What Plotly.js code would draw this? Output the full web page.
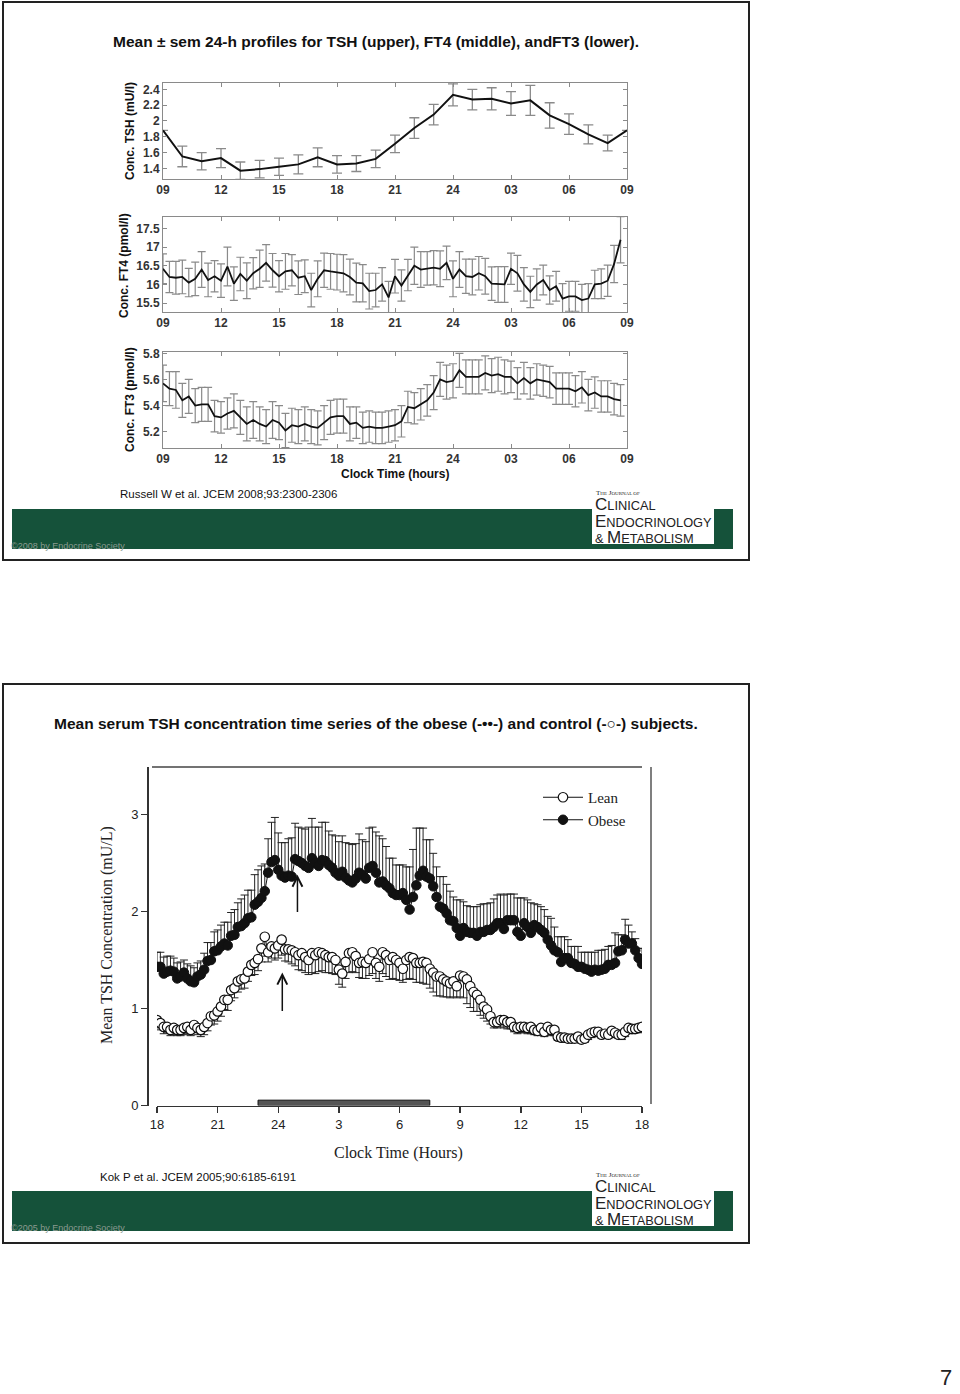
<!DOCTYPE html>
<html><head><meta charset="utf-8">
<script src="https://cdn.plot.ly/plotly-3.0.1.min.js"></script>
<style>html,body{margin:0;padding:0;background:#fff;} #chart{width:960px;height:1394px;}</style>
</head><body><div id="chart"></div>
<script>
// ---------- Slide 1 data (hours since 09:00) ----------
const tickHours1 = [0,3,6,9,12,15,18,21,24];
const tickText1 = ['09','12','15','18','21','24','03','06','09'];

const tshHours = [0,1,2,3,4,5,6,7,8,9,10,11,12,13,14,15,16,17,18,19,20,21,22,23,24];
const tshMean = [1.88,1.55,1.49,1.53,1.37,1.39,1.42,1.45,1.54,1.45,1.46,1.52,1.71,1.91,2.08,2.33,2.27,2.28,2.22,2.26,2.07,1.96,1.83,1.72,1.88];
const tshSem = [null,0.13,0.11,0.12,0.11,0.11,0.11,0.12,0.12,0.11,0.10,0.11,0.11,0.13,0.13,0.14,0.13,0.14,0.15,0.19,0.16,0.13,0.12,0.10,null];
const tshTicks = [1.4,1.6,1.8,2,2.2,2.4];
const tshTickText = ['1.4','1.6','1.8','2','2.2','2.4'];

const ft4Mean = [16.42,16.20,16.18,16.20,16.05,16.15,16.40,16.12,16.22,16.10,
16.48,16.02,16.28,16.10,16.30,16.42,16.58,16.38,16.22,16.35,
16.38,16.18,16.22,15.85,16.15,16.38,16.35,16.33,16.30,16.20,
16.05,16.03,15.82,15.85,16.00,15.65,16.22,15.97,16.25,16.50,
16.40,16.43,16.45,16.42,16.58,16.15,16.40,16.22,16.20,16.30,
16.22,16.02,16.00,16.00,16.42,16.30,16.00,15.80,16.00,16.12,
15.85,15.95,15.62,15.68,15.68,15.58,15.62,16.00,16.02,16.10,
16.55,17.20];
const ft4Sem = [0.40,0.42,0.44,0.45,0.38,0.45,0.48,0.45,0.42,0.45,
0.52,0.45,0.45,0.48,0.42,0.50,0.49,0.45,0.42,0.48,
0.42,0.45,0.44,0.45,0.48,0.46,0.48,0.48,0.50,0.48,
0.52,0.50,0.48,0.45,0.45,0.43,0.45,0.42,0.42,0.50,
0.48,0.45,0.46,0.48,0.45,0.48,0.48,0.46,0.48,0.45,
0.48,0.45,0.48,0.48,0.42,0.48,0.45,0.42,0.42,0.40,
0.38,0.40,0.40,0.40,0.40,0.42,0.40,0.38,0.40,0.42,
0.50,0.62];
const ft4Ticks = [15.5,16,16.5,17,17.5];
const ft4TickText = ['15.5','16','16.5','17','17.5'];

const ft3Mean = [5.57,5.53,5.52,5.44,5.47,5.40,5.41,5.41,5.32,5.31,
5.34,5.36,5.31,5.26,5.29,5.26,5.24,5.29,5.27,5.21,
5.25,5.24,5.26,5.24,5.23,5.27,5.31,5.32,5.32,5.26,
5.27,5.23,5.24,5.23,5.23,5.24,5.25,5.28,5.39,5.38,
5.41,5.44,5.50,5.60,5.58,5.59,5.67,5.62,5.62,5.62,
5.65,5.63,5.64,5.62,5.62,5.57,5.61,5.57,5.60,5.59,
5.58,5.53,5.53,5.53,5.51,5.54,5.48,5.50,5.47,5.47,
5.45,5.44];
const ft3Sem = [0.14,0.13,0.14,0.13,0.13,0.13,0.13,0.13,0.12,0.12,
0.12,0.13,0.13,0.13,0.14,0.13,0.13,0.14,0.13,0.13,
0.13,0.13,0.13,0.13,0.13,0.13,0.13,0.13,0.13,0.13,
0.12,0.12,0.12,0.12,0.12,0.12,0.12,0.12,0.12,0.12,
0.12,0.12,0.13,0.13,0.13,0.13,0.13,0.13,0.13,0.13,
0.13,0.13,0.13,0.13,0.12,0.12,0.12,0.12,0.12,0.12,
0.12,0.12,0.12,0.12,0.12,0.12,0.12,0.12,0.12,0.12,
0.12,0.12];
const ft3Ticks = [5.2,5.4,5.6,5.8];
const ft3TickText = ['5.2','5.4','5.6','5.8'];
const ft4ft3StepHours = 1/3; // 20-min sampling

// ---------- Slide 2 data (hours since 18:00, 10-min sampling) ----------
const tickHours2 = [0,3,6,9,12,15,18,21,24];
const tickText2 = ['18','21','24','3','6','9','12','15','18'];
const kokStepHours = 1/6;
const obeseMean = [1.43,1.43,1.36,1.38,1.39,1.38,1.31,1.33,1.37,1.31,
1.28,1.27,1.33,1.35,1.40,1.49,1.50,1.59,1.60,1.64,
1.67,1.65,1.75,1.76,1.84,1.85,1.88,1.93,1.94,2.07,
2.10,2.14,2.21,2.40,2.51,2.53,2.43,2.37,2.35,2.37,
2.36,2.54,2.52,2.50,2.47,2.45,2.55,2.50,2.47,2.53,
2.52,2.48,2.45,2.40,2.37,2.41,2.35,2.32,2.30,2.34,
2.40,2.38,2.34,2.45,2.47,2.40,2.30,2.31,2.27,2.24,
2.19,2.17,2.17,2.19,2.12,2.02,2.15,2.27,2.37,2.42,
2.36,2.34,2.26,2.15,2.05,2.03,1.98,1.91,1.90,1.83,
1.75,1.83,1.79,1.78,1.78,1.75,1.79,1.79,1.81,1.81,
1.84,1.88,1.88,1.82,1.91,1.91,1.91,1.79,1.75,1.88,
1.84,1.78,1.86,1.84,1.81,1.78,1.71,1.65,1.60,1.58,
1.48,1.52,1.52,1.47,1.46,1.43,1.43,1.41,1.40,1.38,
1.40,1.39,1.40,1.41,1.45,1.45,1.47,1.59,1.60,1.71,
1.67,1.67,1.60,1.52,1.46];
const obeseSem = [0.15,0.15,0.17,0.16,0.15,0.14,0.16,0.15,0.13,0.15,
0.16,0.15,0.14,0.14,0.17,0.19,0.18,0.20,0.21,0.22,
0.22,0.24,0.24,0.26,0.25,0.28,0.29,0.29,0.28,0.31,
0.33,0.33,0.28,0.35,0.41,0.44,0.38,0.34,0.36,0.38,
0.40,0.37,0.35,0.36,0.38,0.42,0.41,0.37,0.40,0.39,
0.40,0.35,0.34,0.38,0.35,0.37,0.36,0.38,0.39,0.36,
0.40,0.36,0.38,0.41,0.40,0.42,0.48,0.44,0.40,0.31,
0.36,0.31,0.31,0.29,0.34,0.44,0.49,0.59,0.49,0.44,
0.38,0.40,0.34,0.31,0.31,0.33,0.30,0.30,0.25,0.29,
0.37,0.27,0.27,0.27,0.27,0.30,0.28,0.29,0.27,0.28,
0.29,0.29,0.30,0.35,0.27,0.27,0.27,0.35,0.39,0.26,
0.28,0.31,0.22,0.23,0.24,0.24,0.24,0.28,0.24,0.16,
0.26,0.22,0.19,0.17,0.18,0.21,0.15,0.17,0.18,0.20,
0.18,0.21,0.20,0.20,0.19,0.20,0.31,0.17,0.16,0.21,
0.19,0.12,0.12,0.10,0.16];
const leanMean = [0.88,0.85,0.81,0.81,0.78,0.80,0.78,0.78,0.80,0.81,
0.78,0.83,0.80,0.78,0.81,0.85,0.92,0.93,0.97,1.02,
1.09,1.09,1.19,1.21,1.28,1.30,1.31,1.38,1.45,1.47,
1.51,1.62,1.74,1.58,1.64,1.62,1.65,1.71,1.61,1.61,
1.60,1.58,1.55,1.57,1.53,1.50,1.57,1.55,1.58,1.57,
1.55,1.53,1.53,1.50,1.40,1.36,1.48,1.57,1.58,1.54,
1.47,1.48,1.47,1.51,1.58,1.47,1.43,1.58,1.55,1.50,
1.53,1.50,1.47,1.41,1.50,1.53,1.52,1.47,1.47,1.48,
1.47,1.41,1.37,1.33,1.33,1.30,1.28,1.26,1.28,1.23,
1.34,1.33,1.30,1.23,1.17,1.14,1.09,1.02,0.99,0.92,
0.86,0.86,0.88,0.88,0.86,0.86,0.81,0.80,0.81,0.81,
0.80,0.81,0.78,0.77,0.80,0.76,0.81,0.78,0.78,0.71,
0.70,0.70,0.69,0.69,0.69,0.71,0.68,0.69,0.73,0.75,
0.76,0.76,0.73,0.74,0.73,0.77,0.75,0.73,0.73,0.76,
0.80,0.79,0.79,0.80,0.81];
const leanSem = [0.08,0.07,0.07,0.06,0.06,0.07,0.06,0.06,0.07,0.07,
0.06,0.08,0.07,0.07,0.08,0.08,0.09,0.09,0.10,0.10,
0.10,0.11,0.11,0.10,0.11,0.10,0.10,0.10,0.11,0.12,
0.12,0.14,0.20,0.10,0.12,0.12,0.13,0.16,0.12,0.13,
0.14,0.14,0.15,0.18,0.16,0.15,0.20,0.19,0.20,0.18,
0.18,0.16,0.17,0.15,0.15,0.14,0.17,0.20,0.20,0.17,
0.15,0.17,0.16,0.17,0.22,0.16,0.15,0.22,0.22,0.20,
0.22,0.20,0.18,0.14,0.20,0.22,0.22,0.20,0.20,0.22,
0.22,0.20,0.20,0.20,0.20,0.18,0.16,0.15,0.16,0.12,
0.22,0.22,0.25,0.22,0.20,0.17,0.16,0.12,0.12,0.08,
0.06,0.06,0.07,0.08,0.07,0.07,0.05,0.06,0.06,0.06,
0.06,0.07,0.05,0.05,0.07,0.05,0.08,0.06,0.06,0.04,
0.04,0.04,0.04,0.04,0.04,0.05,0.04,0.04,0.05,0.05,
0.05,0.05,0.04,0.05,0.04,0.05,0.05,0.04,0.05,0.05,
0.05,0.05,0.04,0.05,0.05];
const kokTicks = [0,1,2,3];
const sleepPeriod = [5, 13.5];        // 23:00 - 07:30
const arrowObese = {x: 6.95, tip: 2.38, tail: 1.98};
const arrowLean  = {x: 6.2,  tip: 1.37, tail: 0.96};

// ---------- helpers ----------
const W = 960, H = 1394;
const PX = x => x / W;
const PY = y => 1 - y / H;

const ft4Hours = ft4Mean.map((_, i) => i * ft4ft3StepHours);
const ft3Hours = ft3Mean.map((_, i) => i * ft4ft3StepHours);
const kokHours = obeseMean.map((_, i) => i * kokStepHours);
const zeros = obeseMean.map(() => 0);

const sans = 'Liberation Sans, Arial, sans-serif';
const serif = 'Liberation Serif, Times New Roman, serif';

function boxX(dom, anchor) {
  return {domain: dom, anchor: anchor, range: [0, 24], tickvals: tickHours1, ticktext: tickText1,
    showline: true, linecolor: '#8a8a8a', linewidth: 1, mirror: 'ticks', ticks: 'inside', ticklen: 4,
    tickcolor: '#8a8a8a', showgrid: false, zeroline: false,
    tickfont: {family: sans, size: 12, color: '#333', weight: 'bold'}};
}
function boxY(dom, anchor, range, tv, tt) {
  return {domain: dom, anchor: anchor, range: range, tickvals: tv, ticktext: tt,
    showline: true, linecolor: '#8a8a8a', linewidth: 1, mirror: 'ticks', ticks: 'inside', ticklen: 4,
    tickcolor: '#8a8a8a', showgrid: false, zeroline: false,
    tickfont: {family: sans, size: 12, color: '#333', weight: 'bold'}};
}

const traces = [
  {x: tshHours, y: tshMean, xaxis: 'x', yaxis: 'y', mode: 'lines', showlegend: false,
   line: {color: '#111', width: 2},
   error_y: {type: 'data', array: tshSem, color: '#8a8a8a', thickness: 1.3, width: 5}},
  {x: ft4Hours, y: ft4Mean, xaxis: 'x2', yaxis: 'y2', mode: 'lines', showlegend: false,
   line: {color: '#111', width: 1.8},
   error_y: {type: 'data', array: ft4Sem, color: '#8a8a8a', thickness: 1.2, width: 4}},
  {x: ft3Hours, y: ft3Mean, xaxis: 'x3', yaxis: 'y3', mode: 'lines', showlegend: false,
   line: {color: '#111', width: 1.8},
   error_y: {type: 'data', array: ft3Sem, color: '#8a8a8a', thickness: 1.2, width: 4}},
  {x: kokHours, y: leanMean, xaxis: 'x4', yaxis: 'y4', mode: 'lines+markers', name: 'Lean',
   line: {color: '#111', width: 1},
   marker: {symbol: 'circle', size: 9.5, color: '#fff', line: {color: '#111', width: 1.2}},
   error_y: {type: 'data', symmetric: false, array: zeros, arrayminus: leanSem, color: '#222', thickness: 1, width: 4}},
  {x: kokHours, y: obeseMean, xaxis: 'x4', yaxis: 'y4', mode: 'lines+markers', name: 'Obese',
   line: {color: '#111', width: 1},
   marker: {symbol: 'circle', size: 9.5, color: '#111', line: {color: '#111', width: 1}},
   error_y: {type: 'data', symmetric: false, array: obeseSem, arrayminus: zeros, color: '#222', thickness: 1, width: 4}}
];

const shapes = [];
// slide frames
[[2, 560], [684, 1243]].forEach(([t, b]) => {
  shapes.push({type: 'rect', xref: 'paper', yref: 'paper', x0: PX(3), x1: PX(749), y0: PY(b), y1: PY(t),
    line: {color: '#222', width: 2}, fillcolor: 'rgba(0,0,0,0)'});
});
// green bars and logo boxes
[[509, 549, 544], [1191, 1231, 1226]].forEach(([t, b, lb]) => {
  shapes.push({type: 'rect', xref: 'paper', yref: 'paper', x0: PX(12), x1: PX(733), y0: PY(b), y1: PY(t),
    line: {width: 0}, fillcolor: '#15523a'});
  shapes.push({type: 'rect', xref: 'paper', yref: 'paper', x0: PX(592), x1: PX(714), y0: PY(lb), y1: PY(t),
    line: {width: 0}, fillcolor: '#ffffff'});
});
// slide 2 frame lines (top and right)
shapes.push({type: 'line', xref: 'paper', yref: 'paper', x0: PX(152), x1: PX(642), y0: PY(767), y1: PY(767),
  line: {color: '#444', width: 1.5}});
shapes.push({type: 'line', xref: 'paper', yref: 'paper', x0: PX(651), x1: PX(651), y0: PY(1104), y1: PY(767),
  line: {color: '#555', width: 1.5}});
// sleep bar
shapes.push({type: 'rect', xref: 'x4', yref: 'y4', x0: sleepPeriod[0], x1: sleepPeriod[1], y0: 0, y1: 0.055,
  line: {color: '#111', width: 1}, fillcolor: '#555'});

function ann(text, x, y, opts) {
  return Object.assign({text: text, xref: 'paper', yref: 'paper', x: PX(x), y: PY(y), showarrow: false,
    xanchor: 'center', yanchor: 'middle'}, opts || {});
}
const boldF = s => ({family: sans, size: s, color: '#111', weight: 'bold'});

function logo(top) {
  return [
    ann('T<span style="font-size:5px">HE</span> J<span style="font-size:5px">OURNAL OF</span>', 594, top + 6,
      {xanchor: 'left', font: {family: serif, size: 7, color: '#222'}}),
    ann('<span style="font-size:17px">C</span>LINICAL<br><span style="font-size:17px">E</span>NDOCRINOLOGY<br>&amp; <span style="font-size:17px">M</span>ETABOLISM',
      593, top + 34, {xanchor: 'left', align: 'left', font: {family: sans, size: 12.8, color: '#222'}})
  ];
}

const annotations = [
  ann('Mean ± sem 24-h profiles for TSH (upper), FT4 (middle), andFT3 (lower).', 376, 41, {font: boldF(15.5)}),
  ann('Conc. TSH (mU/l)', 130, 131, {textangle: -90, font: boldF(12)}),
  ann('Conc. FT4 (pmol/l)', 124, 266, {textangle: -90, font: boldF(12)}),
  ann('Conc. FT3 (pmol/l)', 130, 400, {textangle: -90, font: boldF(12)}),
  ann('Clock Time (hours)', 395, 474, {font: boldF(12)}),
  ann('Russell W et al. JCEM 2008;93:2300-2306', 118, 494, {xanchor: 'left', font: {family: sans, size: 11.5, color: '#111'}}),
  ann('©2008 by Endocrine Society', 9, 546, {xanchor: 'left', font: {family: sans, size: 9, color: '#8a9a90'}}),
  ...logo(487),
  ann('Mean serum TSH concentration time series of the obese (-••-) and control (-○-) subjects.', 376, 723, {font: boldF(15.5)}),
  ann('Mean TSH Concentration (mU/L)', 107, 935, {textangle: -90, font: {family: serif, size: 16, color: '#222'}}),
  ann('Clock Time (Hours)', 398, 1153, {font: {family: serif, size: 16, color: '#222'}}),
  ann('Kok P et al. JCEM 2005;90:6185-6191', 98, 1177, {xanchor: 'left', font: {family: sans, size: 11.5, color: '#111'}}),
  ann('©2005 by Endocrine Society', 9, 1228, {xanchor: 'left', font: {family: sans, size: 9, color: '#8a9a90'}}),
  ...logo(1169),
  ann('7', 946, 1377, {font: {family: sans, size: 22, color: '#222'}}),
  {xref: 'x4', yref: 'y4', axref: 'x4', ayref: 'y4', x: arrowObese.x, y: arrowObese.tip, ax: arrowObese.x, ay: arrowObese.tail,
   text: '', showarrow: true, arrowhead: 5, arrowsize: 1.3, arrowwidth: 1.5, arrowcolor: '#111'},
  {xref: 'x4', yref: 'y4', axref: 'x4', ayref: 'y4', x: arrowLean.x, y: arrowLean.tip, ax: arrowLean.x, ay: arrowLean.tail,
   text: '', showarrow: true, arrowhead: 5, arrowsize: 1.3, arrowwidth: 1.5, arrowcolor: '#111'}
];

const layout = {
  width: W, height: H, autosize: false,
  margin: {l: 0, r: 0, t: 0, b: 0, pad: 0},
  paper_bgcolor: '#fff', plot_bgcolor: 'rgba(0,0,0,0)',
  showlegend: true,
  legend: {x: PX(538), y: PY(781), xanchor: 'left', yanchor: 'top', bgcolor: 'rgba(0,0,0,0)',
    font: {family: serif, size: 15, color: '#222'}, tracegroupgap: 0, itemwidth: 40},
  xaxis: boxX([PX(163), PX(627)], 'y'),
  yaxis: boxY([PY(179), PY(83)], 'x', [1.265, 2.48], tshTicks, tshTickText),
  xaxis2: boxX([PX(163), PX(627)], 'y2'),
  yaxis2: boxY([PY(312), PY(217)], 'x2', [15.26, 17.81], ft4Ticks, ft4TickText),
  xaxis3: boxX([PX(163), PX(627)], 'y3'),
  yaxis3: boxY([PY(448), PY(352)], 'x3', [5.076, 5.81], ft3Ticks, ft3TickText),
  xaxis4: {domain: [PX(157), PX(642)], anchor: 'y4', range: [0, 24], tickvals: tickHours2, ticktext: tickText2,
    showline: true, linecolor: '#333', linewidth: 1.5, ticks: 'outside', ticklen: 6, tickcolor: '#333', tickwidth: 1.5,
    showgrid: false, zeroline: false, tickfont: {family: sans, size: 13, color: '#222'}},
  yaxis4: {domain: [PY(1105.5), PY(767)], anchor: 'free', position: PX(147), range: [0, 3.49],
    tickvals: kokTicks, showline: true, linecolor: '#333', linewidth: 1.5, ticks: 'outside', ticklen: 6,
    tickcolor: '#333', tickwidth: 1.5, showgrid: false, zeroline: false,
    tickfont: {family: sans, size: 13, color: '#222'}},
  shapes: shapes,
  annotations: annotations
};

Plotly.newPlot('chart', traces, layout, {staticPlot: true, displayModeBar: false});
</script>
</body></html>
